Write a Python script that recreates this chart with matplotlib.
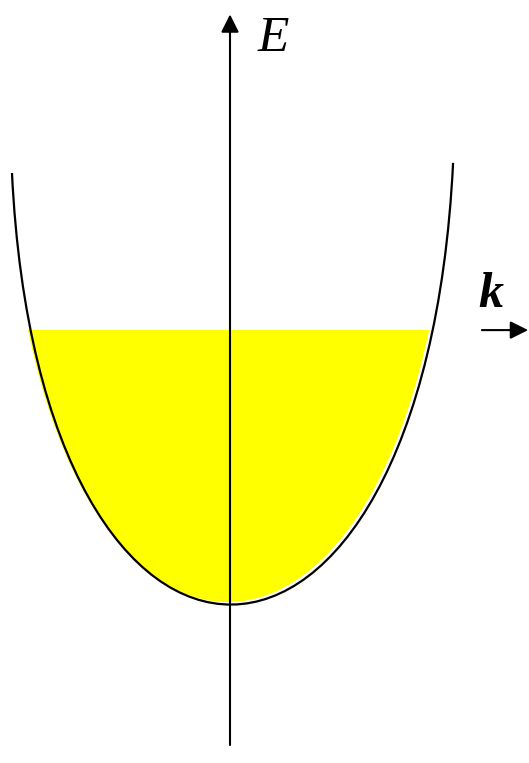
import matplotlib
matplotlib.use('Agg')
import matplotlib.pyplot as plt
from matplotlib.path import Path
from matplotlib.patches import PathPatch, Rectangle
import matplotlib.transforms as mtransforms

# band curve E(k), cubic bezier control points (k, E)
curve_k = [-0.991, -0.864, 0.882, 1.014]
curve_E = [1.959, -0.664, -0.664, 2.005]
fermi_E = 1.245          # filled up to here
axis_E = [-0.641, 2.68]  # vertical E axis, bottom -> tip
k_arrow = [1.145, 1.355] # small k arrow at the right
k_arrow_E = 1.245

fig = plt.figure(figsize=(5.29, 7.63), dpi=100)
ax = fig.add_axes([0, 0, 1, 1])
ax.set_xlim(-230 / 220, 299 / 220)
ax.set_ylim(-159 / 220, 604 / 220)
ax.axis('off')

verts = list(zip(curve_k, curve_E))
codes = [Path.MOVETO, Path.CURVE4, Path.CURVE4, Path.CURVE4]

# yellow filled states (drawn a little offset, like the original)
fill_path = Path(verts + [verts[0]], codes + [Path.CLOSEPOLY])
off = mtransforms.offset_copy(ax.transData, fig=fig, x=-3, y=2.5, units='dots')
fill = PathPatch(fill_path, facecolor='#ffff00', edgecolor='none', transform=off, zorder=1)
ax.add_patch(fill)
clip = Rectangle((-2, -2), 4, fermi_E + 2, transform=ax.transData)
fill.set_clip_path(clip)

# the band curve
ax.add_patch(PathPatch(Path(verts, codes), facecolor='none', edgecolor='black', lw=1.6, zorder=3))

# E axis
ax.annotate('', xy=(0, axis_E[1]), xytext=(0, axis_E[0]),
            arrowprops=dict(arrowstyle='-|>', mutation_scale=27, lw=1.5, color='black',
                            shrinkA=0, shrinkB=0), zorder=4)
ax.text(0.195, 2.57, 'E', fontsize=37, family='Liberation Serif', style='italic',
        ha='center', va='center')

# k arrow
ax.annotate('', xy=(k_arrow[1], k_arrow_E), xytext=(k_arrow[0], k_arrow_E),
            arrowprops=dict(arrowstyle='-|>', mutation_scale=27, lw=1.5, color='black',
                            shrinkA=0, shrinkB=0))
ax.text(1.186, 1.35, 'k', fontsize=36, family='Liberation Serif', style='italic',
        weight='bold', ha='center', va='baseline')

plt.savefig('out.png', dpi=100)
